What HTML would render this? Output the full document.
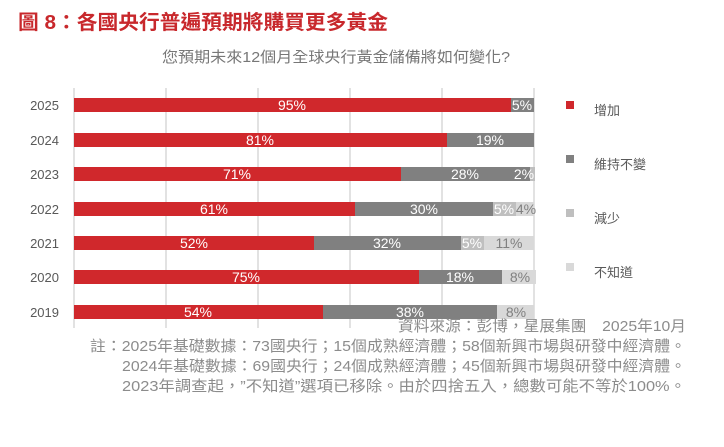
<!DOCTYPE html>
<html><head><meta charset="utf-8"><style>
body{margin:0;background:#fff;}
svg text{font-family:"Liberation Sans","Noto Sans CJK TC",sans-serif;}
</style></head><body>
<svg width="724" height="442" xmlns="http://www.w3.org/2000/svg">
<text x="18" y="29" font-size="20" font-weight="bold" fill="#c8282c" textLength="370" lengthAdjust="spacingAndGlyphs">圖 8：各國央行普遍預期將購買更多黃金</text>
<text x="162" y="62" font-size="15" fill="#777" textLength="348" lengthAdjust="spacingAndGlyphs">您預期未來12個月全球央行黃金儲備將如何變化?</text>
<g stroke="#d9d9d9" stroke-width="1.5">
<line x1="74" y1="88" x2="74" y2="328"/><line x1="166" y1="88" x2="166" y2="328"/><line x1="258" y1="88" x2="258" y2="328"/><line x1="350" y1="88" x2="350" y2="328"/><line x1="442" y1="88" x2="442" y2="328"/><line x1="534" y1="88" x2="534" y2="328"/>
</g>
<g font-size="13" fill="#595959" text-anchor="end">
<text x="59" y="110">2025</text><text x="59" y="145">2024</text><text x="59" y="179">2023</text><text x="59" y="214">2022</text><text x="59" y="248">2021</text><text x="59" y="282">2020</text><text x="59" y="317">2019</text>
</g>
<g>
<rect x="74" y="98" width="437" height="14" fill="#d0282c"/><rect x="511" y="98" width="23" height="14" fill="#808080"/>
<rect x="74" y="133" width="373" height="14" fill="#d0282c"/><rect x="447" y="133" width="87" height="14" fill="#808080"/>
<rect x="74" y="167" width="327" height="14" fill="#d0282c"/><rect x="401" y="167" width="129" height="14" fill="#808080"/><rect x="530" y="167" width="5" height="14" fill="#bfbfbf"/>
<rect x="74" y="202" width="281" height="14" fill="#d0282c"/><rect x="355" y="202" width="138" height="14" fill="#808080"/><rect x="493" y="202" width="23" height="14" fill="#bfbfbf"/><rect x="516" y="202" width="18" height="14" fill="#d9d9d9"/>
<rect x="74" y="236" width="240" height="14" fill="#d0282c"/><rect x="314" y="236" width="147" height="14" fill="#808080"/><rect x="461" y="236" width="23" height="14" fill="#bfbfbf"/><rect x="484" y="236" width="50" height="14" fill="#d9d9d9"/>
<rect x="74" y="270" width="345" height="14" fill="#d0282c"/><rect x="419" y="270" width="83" height="14" fill="#808080"/><rect x="502" y="270" width="34" height="14" fill="#d9d9d9"/>
<rect x="74" y="305" width="249" height="14" fill="#d0282c"/><rect x="323" y="305" width="174" height="14" fill="#808080"/><rect x="497" y="305" width="37" height="14" fill="#d9d9d9"/>
</g>
<g font-size="14" fill="#fff" text-anchor="middle">
<text x="292" y="110">95%</text><text x="522" y="110">5%</text>
<text x="260" y="145">81%</text><text x="490" y="145">19%</text>
<text x="237" y="179">71%</text><text x="465" y="179">28%</text><text x="524" y="179" fill="#fff">2%</text>
<text x="214" y="214">61%</text><text x="424" y="214">30%</text><text x="504" y="214">5%</text><text x="526" y="214" fill="#808080">4%</text>
<text x="194" y="248">52%</text><text x="387" y="248">32%</text><text x="472" y="248">5%</text><text x="509" y="248" fill="#808080">11%</text>
<text x="246" y="282">75%</text><text x="460" y="282">18%</text><text x="520" y="282" fill="#808080">8%</text>
<text x="198" y="317">54%</text><text x="410" y="317">38%</text><text x="516" y="317" fill="#808080">8%</text>
</g>
<rect x="566" y="101" width="8" height="8" fill="#d0282c"/>
<rect x="566" y="155" width="8" height="8" fill="#808080"/>
<rect x="566" y="209" width="8" height="8" fill="#bfbfbf"/>
<rect x="566" y="263" width="8" height="8" fill="#d9d9d9"/>
<g font-size="13" fill="#595959">
<text x="594" y="115">增加</text><text x="594" y="169">維持不變</text><text x="594" y="223">減少</text><text x="594" y="277">不知道</text>
</g>
<g font-size="15" fill="#8c8c8c">
<text x="398" y="331" textLength="288" lengthAdjust="spacingAndGlyphs">資料來源：彭博，星展集團　2025年10月</text>
<text x="90" y="351" textLength="596" lengthAdjust="spacingAndGlyphs">註：2025年基礎數據：73國央行；15個成熟經濟體；58個新興市場與研發中經濟體。</text>
<text x="122" y="371" textLength="564" lengthAdjust="spacingAndGlyphs">2024年基礎數據：69國央行；24個成熟經濟體；45個新興市場與研發中經濟體。</text>
<text x="122" y="391" textLength="564" lengthAdjust="spacingAndGlyphs">2023年調查起，”不知道”選項已移除。由於四捨五入，總數可能不等於100%。</text>
</g>
</svg>
</body></html>
